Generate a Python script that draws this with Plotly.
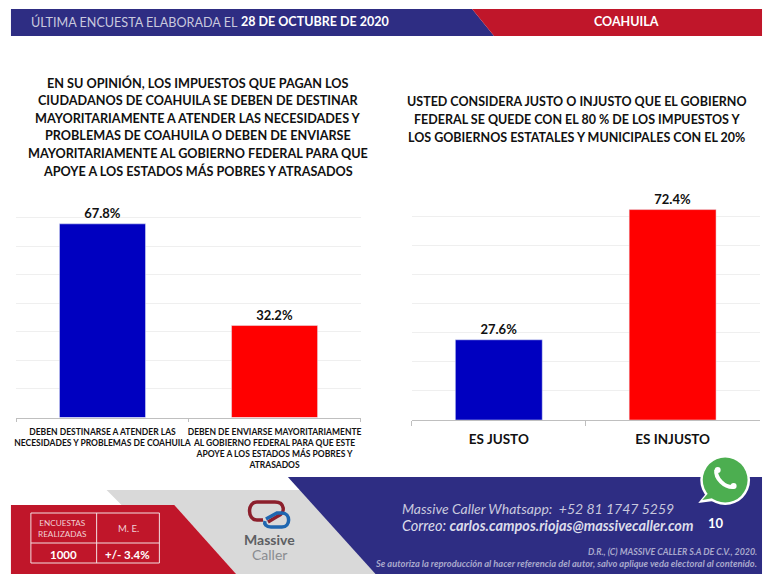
import plotly.graph_objects as go

W, H = 768, 579
FONT = "Lato"

left_categories = [
    "DEBEN DESTINARSE A ATENDER LAS<br>NECESIDADES Y PROBLEMAS DE COAHUILA",
    "DEBEN DE ENVIARSE MAYORITARIAMENTE<br>AL GOBIERNO FEDERAL PARA QUE ESTE<br>APOYE A LOS ESTADOS MÁS POBRES Y<br>ATRASADOS",
]
left_values = [67.8, 32.2]
right_categories = ["ES JUSTO", "ES INJUSTO"]
right_values = [27.6, 72.4]
bar_colors = ["#0000c0", "#ff0000"]
axis_ticks = [0, 10, 20, 30, 40, 50, 60, 70, 80]

left_title = [
    "EN SU OPINIÓN, LOS IMPUESTOS QUE PAGAN LOS",
    "CIUDADANOS DE COAHUILA SE DEBEN DE DESTINAR",
    "MAYORITARIAMENTE A ATENDER LAS NECESIDADES Y",
    "PROBLEMAS DE COAHUILA O DEBEN DE ENVIARSE",
    "MAYORITARIAMENTE AL GOBIERNO FEDERAL PARA QUE",
    "APOYE A LOS ESTADOS MÁS POBRES Y ATRASADOS",
]
right_title = [
    "USTED CONSIDERA JUSTO O INJUSTO QUE EL GOBIERNO",
    "FEDERAL SE QUEDE CON EL 80 % DE LOS IMPUESTOS Y",
    "LOS GOBIERNOS ESTATALES Y MUNICIPALES CON EL 20%",
]


def px(x):
    return x / W


def py(y):
    return 1 - y / H


def poly(points, color, layer="below"):
    d = "M" + " L".join(f"{px(x):.5f},{py(y):.5f}" for x, y in points) + " Z"
    return dict(type="path", xref="paper", yref="paper", path=d, fillcolor=color,
                line=dict(width=0), layer=layer)


def curve(d_points, color, width):
    parts = []
    for seg in d_points:
        cmd, coords = seg[0], seg[1:]
        pairs = [f"{px(coords[i]):.5f},{py(coords[i+1]):.5f}" for i in range(0, len(coords), 2)]
        parts.append(cmd + " ".join(pairs))
    return dict(type="path", xref="paper", yref="paper", path=" ".join(parts),
                line=dict(color=color, width=width), layer="above")


def disc(cx, cy, r, color):
    return dict(type="circle", xref="paper", yref="paper", x0=px(cx - r), x1=px(cx + r),
                y0=py(cy + r), y1=py(cy - r), fillcolor=color, line=dict(width=0), layer="above")


def text(x, y, s, size, color="#000000", anchor="center"):
    return dict(xref="paper", yref="paper", x=px(x), y=py(y), text=s, showarrow=False,
                xanchor=anchor, yanchor="middle", align=anchor,
                font=dict(family=FONT, size=size, color=color))


def line(x0, y0, x1, y1, color="#ffffff", width=1):
    return dict(type="line", xref="paper", yref="paper", x0=px(x0), y0=py(y0), x1=px(x1), y1=py(y1),
                line=dict(color=color, width=width), layer="above")


BLUE, RED, GREY = "#2e2d83", "#c0162a", "#d9d9d9"
GREEN = "#4cae50"

fig = go.Figure()
fig.add_bar(x=left_categories, y=left_values, marker_color=bar_colors, xaxis="x", yaxis="y",
            text=[f"{v:.1f}%" for v in left_values], textposition="outside", cliponaxis=False,
            textfont=dict(family=FONT, size=13, color="#111111", weight="bold"))
fig.add_bar(x=right_categories, y=right_values, marker_color=bar_colors, xaxis="x2", yaxis="y2",
            text=[f"{v:.1f}%" for v in right_values], textposition="outside", cliponaxis=False,
            textfont=dict(family=FONT, size=13, color="#111111", weight="bold"))

shapes = [
    poly([(9, 9), (472, 9), (494, 36), (9, 36)], BLUE),
    poly([(472, 9), (763, 9), (763, 36), (494, 36)], RED),
    poly([(105, 490), (320, 490), (390, 574), (235, 574), (173, 505), (120, 505)], GREY),
    poly([(9, 505), (173, 505), (235, 574), (9, 574)], RED),
    poly([(287, 477), (763, 477), (763, 574), (375, 574)], BLUE),
    dict(type="rect", xref="paper", yref="paper", x0=px(29), x1=px(158), y0=py(563), y1=py(513),
         line=dict(color="#f3dfe1", width=1), layer="above"),
    line(95, 513, 95, 563, "#f3dfe1"),
    line(29, 543, 158, 543, "#f3dfe1"),
    # whatsapp badge
    poly([(708, 492), (699, 503), (722, 500)], "#ffffff", "above"),
    disc(726, 480, 25, "#ffffff"),
    poly([(710, 492), (703, 500), (720, 497)], GREEN, "above"),
    disc(726, 480, 22.5, GREEN),
    curve([("M", 717, 470), ("C", 716, 478, 725, 488, 735, 487)], "#ffffff", 4),
    disc(718.5, 470, 3, "#ffffff"),
    disc(734.5, 486, 3, "#ffffff"),
    # logo
    curve([("M", 262, 520), ("L", 256, 520), ("C", 246, 520, 246, 502, 256, 502),
           ("L", 274, 502), ("C", 284, 502, 285, 513, 277, 516), ("L", 267, 522)], "#8c1f2c", 3.5),
    curve([("M", 265, 519), ("L", 276, 513), ("L", 281, 513), ("C", 290, 513, 290, 527, 281, 527),
           ("L", 270, 527), ("C", 265, 527, 263, 524, 264, 521)], "#1f66b0", 3.5),
]

annotations = [
    text(27, 22, "ÚLTIMA ENCUESTA ELABORADA EL", 12.6, "#c9c9de", "left"),
    text(238, 22, "<b>28 DE OCTUBRE DE 2020</b>", 12.5, "#ffffff", "left"),
    text(627, 22, "<b>COAHUILA</b>", 12.5, "#ffffff"),
    text(61, 528, "ENCUESTAS<br>REALIZADAS", 8.2, "#f0d0d4"),
    text(127, 528, "M. E.", 9.5, "#f0d0d4"),
    text(62, 554, "<b>1000</b>", 11.5, "#ffffff"),
    text(126, 554, "<b>+/- 3.4%</b>", 11.5, "#ffffff"),
    text(269, 539.5, "<b>Massive</b>", 14, "#5d5f63"),
    text(269, 554, "Caller", 14, "#8a8c90"),
    text(400, 508, "<i>Massive Caller Whatsapp:  +52 81 1747 5259</i>", 14, "#c9c9de", "left"),
    text(400, 525, "<i>Correo: <b>carlos.campos.riojas@massivecaller.com</b></i>", 14.5, "#dcdcea", "left"),
    text(717, 523, "<b>10</b>", 13, "#ffffff"),
    text(760, 551, "<i><b>D.R., (C) MASSIVE CALLER S.A DE C.V., 2020.</b></i>", 8.9, "#a9a9cc", "right"),
    text(760, 563, "<i><b>Se autoriza la reproducción al hacer referencia del autor, salvo aplique veda electoral al contenido.</b></i>", 9.3, "#a9a9cc", "right"),
]
for ln, y in zip(left_title, [82.5, 100.5, 118, 135.5, 153, 170.5]):
    annotations.append(text(197, y, f"<b>{ln}</b>", 12.65, "#111111"))
for ln, y in zip(right_title, [102, 120, 137.5]):
    annotations.append(text(577, y, f"<b>{ln}</b>", 12.5, "#111111"))


def y_axis(domain, anchor):
    return dict(domain=domain, range=[0, 80], tickvals=axis_ticks, showticklabels=False,
                showgrid=True, gridcolor="#efefef", gridwidth=1, zeroline=False,
                showline=False, ticks="", anchor=anchor)


def x_axis(domain, anchor, size, ticklen, standoff):
    return dict(domain=domain, anchor=anchor, type="category", tickson="boundaries",
                ticks="outside", ticklen=ticklen, tickcolor="#bfbfbf", showline=True,
                linecolor="#bfbfbf", showgrid=False, tickangle=0, ticklabelstandoff=standoff,
                tickfont=dict(family=FONT, size=size, color="#111111", weight="bold"))


fig.update_layout(
    width=W, height=H, margin=dict(l=0, r=0, t=0, b=0, pad=0), autosize=False,
    paper_bgcolor="#ffffff", plot_bgcolor="#ffffff", showlegend=False, bargap=0.5,
    xaxis=x_axis([px(14.5), px(360)], "y", 8.5, 3, 6),
    yaxis=y_axis([py(417.5), py(189)], "x"),
    xaxis2=x_axis([px(411.5), px(760.5)], "y2", 13.5, 5, 7),
    yaxis2=y_axis([py(420), py(187.5)], "x2"),
    shapes=shapes, annotations=annotations,
)
fig.write_html("out.html", config=dict(displayModeBar=False),
               post_script="document.body.style.margin='0';document.documentElement.style.overflow='hidden';")
